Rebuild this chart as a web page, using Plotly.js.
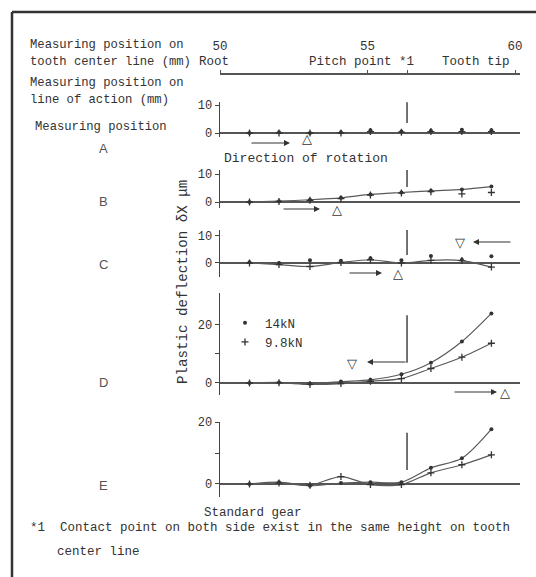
<!DOCTYPE html>
<html><head><meta charset="utf-8">
<script src="https://cdn.plot.ly/plotly-3.0.1.min.js"></script>
<style>html,body{margin:0;padding:0;background:#fff}#chart{width:536px;height:577px}</style>
</head><body><div id="chart"></div>
<script>
// Measuring positions (on tooth center line, mm)
const xPos = [51.0, 52.0, 53.05, 54.1, 55.1, 56.15, 57.15, 58.2, 59.2];
const pitchPoint = 56.34;
// top scale ticks
const toothTicks = [50, 55, pitchPoint, 60];
const toothTickText = ['50', '55', '', '60'];
const loaTickPos = [52.6, 53.83, 55.35, 57.45, 60];
const loaTickText = ['', '15', '20', '25', '30'];
// Plastic deflection (µm) for each measuring position A–E
const a14 = [0, 0.3, 0, 0.3, 1.0, 0.5, 0.8, 1.2, 1.0];
const a98 = [0, 0, 0, 0, 0.5, 0.3, 0.5, 0.5, 0.5];
const b14 = [0, 0.3, 0.8, 1.5, 2.7, 3.4, 4.0, 4.5, 5.5];
const b98 = [0, 0.2, 0.6, 1.2, 2.5, 3.2, 3.7, 2.9, 3.4];
const c14 = [0.3, 0, 1.0, 0.8, 1.8, 1.0, 2.6, 1.2, 2.5];
const c98 = [0, -0.6, -1.3, 0.2, 1.2, 0, 1.0, 0.9, -1.5];
const d14 = [0, 0.2, -0.3, 0.5, 1.1, 3.0, 7.0, 14.3, 24.0];
const d98 = [0, 0.1, -0.5, -0.2, 0.6, 1.5, 5.0, 8.9, 13.7];
const e14 = [0, 0.6, -0.6, 0.3, 0.6, 0.6, 5.2, 8.3, 17.7];
const e98 = [0, 0.3, -0.4, 2.4, -0.2, -0.2, 3.6, 6.2, 9.4];
const seriesNames = ['14kN', '9.8kN'];

const W = 536, H = 577;
const px = v => v / W, py = v => 1 - v / H;
const ink = '#333', lineC = '#5a5a5a';
const mono = 'Liberation Mono, DejaVu Sans Mono, monospace';

const m14 = {symbol: 'circle', size: 4, color: ink};
const m98 = {symbol: 'cross-thin', size: 5, color: ink, line: {width: 1.3, color: ink}};

function tr(y, yax, name, mode, marker, show) {
  return {x: xPos, y: y, yaxis: yax, xaxis: 'x', name: name, mode: mode,
    type: 'scatter', marker: marker, line: {color: lineC, width: 1.2, shape: 'spline', smoothing: 0.8},
    showlegend: show, legendgroup: name, cliponaxis: false, hoverinfo: 'x+y+name'};
}
const data = [
  tr(a14, 'y', seriesNames[0], 'markers', m14, true),
  tr(a98, 'y', seriesNames[1], 'markers', m98, true),
  tr(b14, 'y2', seriesNames[0], 'lines+markers', m14, false),
  tr(b98, 'y2', seriesNames[1], 'markers', m98, false),
  tr(c14, 'y3', seriesNames[0], 'markers', m14, false),
  tr(c98, 'y3', seriesNames[1], 'lines+markers', m98, false),
  tr(d14, 'y4', seriesNames[0], 'lines+markers', m14, false),
  tr(d98, 'y4', seriesNames[1], 'lines+markers', m98, false),
  tr(e14, 'y5', seriesNames[0], 'lines+markers', m14, false),
  tr(e98, 'y5', seriesNames[1], 'lines+markers', m98, false)
];

function yax(top, bot, range, tv, tt) {
  return {domain: [py(bot), py(top)], range: range, anchor: 'x', showline: true,
    linecolor: '#444', linewidth: 1.5, ticks: 'outside', ticklen: 4, tickcolor: '#444',
    tickvals: tv, ticktext: tt, zeroline: true, zerolinecolor: '#555', zerolinewidth: 1.5,
    showgrid: false, tickfont: {family: mono, size: 12, color: ink}, fixedrange: true};
}

const xDom = [px(220), px(520)];
const xRange = [50, 50 + 300 / 29.5];

const layout = {
  width: W, height: H, margin: {l: 0, r: 0, t: 0, b: 0},
  paper_bgcolor: '#fff', plot_bgcolor: 'rgba(0,0,0,0)',
  font: {family: mono, size: 12.5, color: ink},
  xaxis: {domain: xDom, range: xRange, anchor: 'free', position: py(73), side: 'top',
    showline: true, linecolor: '#555', linewidth: 1.5, ticks: 'outside', ticklen: 3, tickcolor: '#555',
    tickvals: toothTicks, ticktext: toothTickText, ticklabelstandoff: 15,
    showgrid: false, zeroline: false, tickfont: {family: mono, size: 12.5, color: ink}},
  xaxis2: {domain: xDom, range: xRange, overlaying: 'x', anchor: 'free', position: py(73), side: 'bottom',
    showline: false, ticks: 'outside', ticklen: 3, tickcolor: '#555',
    tickvals: loaTickPos, ticktext: loaTickText,
    showgrid: false, zeroline: false, tickfont: {family: mono, size: 12.5, color: ink}},
  yaxis: yax(102, 137, [-1.43, 11.07], [0, 10], ['0', '10']),
  yaxis2: yax(170, 208, [-2.14, 11.43], [0, 10], ['0', '10']),
  yaxis3: yax(230, 277, [-5.19, 12.22], [0, 10], ['0', '10']),
  yaxis4: yax(293, 395, [-4.14, 31.03], [0, 10, 20], ['0', '', '20']),
  yaxis5: yax(421.7, 497, [-4.2, 20.1], [0, 10, 20], ['0', '', '20']),
  showlegend: true,
  legend: {x: px(225), y: py(308), xanchor: 'left', yanchor: 'top', bgcolor: 'rgba(0,0,0,0)',
    font: {family: mono, size: 12.5, color: ink}, itemwidth: 30, tracegroupgap: 0},
  shapes: [
    {type: 'line', xref: 'paper', yref: 'paper', x0: px(12), x1: 1, y0: py(12), y1: py(12), line: {color: '#333', width: 2.5}},
    {type: 'line', xref: 'paper', yref: 'paper', x0: px(12), x1: px(12), y0: 0, y1: py(12), line: {color: '#333', width: 2.5}},
    {type: 'line', xref: 'x', yref: 'y', x0: pitchPoint, x1: pitchPoint, y0: 3.6, y1: 11.0, line: {color: '#444', width: 1.5}},
    {type: 'line', xref: 'x', yref: 'y2', x0: pitchPoint, x1: pitchPoint, y0: 5.4, y1: 11.4, line: {color: '#444', width: 1.5}},
    {type: 'line', xref: 'x', yref: 'y3', x0: pitchPoint, x1: pitchPoint, y0: 3.0, y1: 12.2, line: {color: '#444', width: 1.5}},
    {type: 'line', xref: 'x', yref: 'y4', x0: pitchPoint, x1: pitchPoint, y0: 7.0, y1: 23.4, line: {color: '#444', width: 1.5}},
    {type: 'line', xref: 'x', yref: 'y5', x0: pitchPoint, x1: pitchPoint, y0: 4.5, y1: 16.5, line: {color: '#444', width: 1.5}}
  ],
  annotations: []
};

const A = layout.annotations;
function txt(t, x, y, opts) {
  A.push(Object.assign({text: t, x: px(x), y: py(y), xref: 'paper', yref: 'paper', showarrow: false,
    xanchor: 'left', yanchor: 'middle', font: {family: mono, size: 12.5, color: ink}}, opts || {}));
}
function arrow(hx, hy, tx, ty) {
  A.push({text: '', x: px(hx), y: py(hy), xref: 'paper', yref: 'paper', showarrow: true,
    ax: tx - hx, ay: ty - hy, arrowhead: 2, arrowsize: 1, arrowwidth: 1.2, arrowcolor: ink});
}
function tri(t, x, y) {
  txt(t, x, y, {xanchor: 'center', font: {family: 'DejaVu Sans', size: 13, color: ink}});
}
const hdr = {family: mono, size: 12.2, color: ink};
txt('Measuring position on', 28, 45, {font: hdr});
txt('tooth center line (mm)', 28, 62, {font: hdr});
txt('Measuring position on', 28, 83, {font: hdr});
txt('line of action (mm)', 28, 100, {font: hdr});
txt('Measuring position', 33, 127, {font: hdr});
txt('Root', 197, 62);
txt('Pitch point *1', 307, 62);
txt('Tooth tip', 512, 62, {xanchor: 'right'});
const panelLabel = {family: 'Liberation Sans, Arial', size: 13, color: '#555'};
txt('A', 103, 148, {xanchor: 'center', font: panelLabel});
txt('B', 103, 202, {xanchor: 'center', font: panelLabel});
txt('C', 103, 264, {xanchor: 'center', font: panelLabel});
txt('D', 103, 383, {xanchor: 'center', font: panelLabel});
txt('E', 103, 485, {xanchor: 'center', font: panelLabel});
txt('Direction of rotation', 222, 158, {font: {family: mono, size: 13, color: ink}});
txt('Standard gear', 202, 513);
txt('*1  Contact point on both side exist in the same height on tooth', 28, 528);
txt('center line', 55, 552);
txt('Plastic deflection δX μm', 183, 282, {xanchor: 'center', textangle: -90,
  font: {family: mono, size: 14.2, color: ink}});

// direction arrows and contact markers
arrow(290, 143, 250, 143); tri('△', 307, 139);
arrow(320, 209, 282, 209); tri('△', 337, 209);
arrow(382, 273, 348, 273); tri('△', 398, 273);
arrow(473, 242, 512, 242); tri('▽', 460, 242);
arrow(367, 362, 407, 362); tri('▽', 352, 363);
arrow(497, 392, 453, 392); tri('△', 505, 392);

Plotly.newPlot('chart', data, layout, {staticPlot: true, displayModeBar: false});
</script></body></html>
